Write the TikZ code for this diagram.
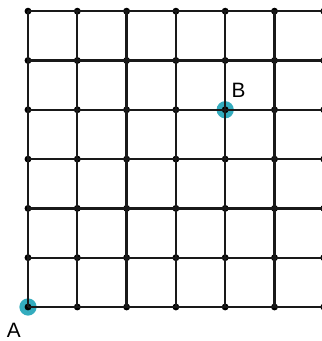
\documentclass[tikz,border=0pt]{standalone}
\usepackage{fontspec}
\setmainfont{Liberation Sans}
\definecolor{markcyan}{RGB}{52,172,190}

\begin{document}
\begin{tikzpicture}[
    gridline/.style = {line width=1.3pt, black!90},
    dot/.style      = {circle, fill=black, inner sep=0pt, minimum size=0.14cm},
    marker/.style   = {circle, fill=markcyan, inner sep=0pt, minimum size=0.35cm},
    lbl/.style      = {font=\fontsize{12}{14}\selectfont, inner sep=0pt},
]

% ============================================================
%  FRAME  –  grid cropped at the right edge
% ============================================================
\useasboundingbox (-0.568, -0.690) rectangle (5.963, 6.227);
\clip (-0.568, -0.690) rectangle (5.963, 6.227);

% ============================================================
%  MARKERS  –  points A and B (under the grid)
% ============================================================
\node[marker] (A) at (0, 0) {};
\node[marker] (B) at (4, 4) {};

% ============================================================
%  GRID POINTS  –  7 x 7 lattice
% ============================================================
\foreach \i in {0,...,6}
  \foreach \j in {0,...,6}
    \node[dot] (d\i\j) at (\i, \j) {};

% ============================================================
%  GRID LINES  –  rows and columns, end dot to end dot
% ============================================================
\foreach \j in {0,...,6}
  \draw[gridline] (d0\j.center) -- (d6\j.center);
\foreach \i in {0,...,6}
  \draw[gridline] (d\i0.center) -- (d\i6.center);

% ============================================================
%  LABELS
% ============================================================
\node[lbl] (labA) at (-0.29, -0.48) {A};
\node[lbl] (labB) at (4.27, 4.40)   {B};

\end{tikzpicture}
\end{document}
